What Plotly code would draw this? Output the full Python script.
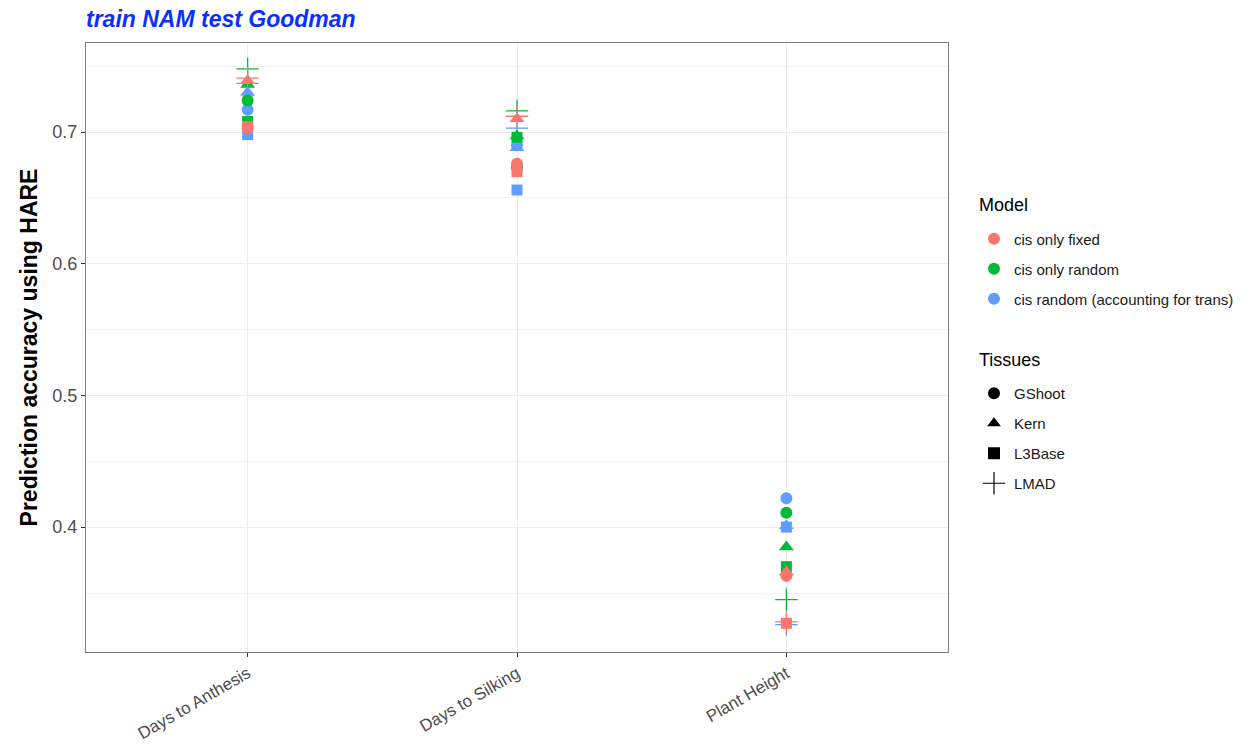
import plotly.graph_objects as go

# Traits on the x axis
traits = ["Days to Anthesis", "Days to Silking", "Plant Height"]

# Prediction accuracy per model and tissue (order follows `traits`)
fixed_gshoot = [0.703, 0.676, 0.363]
fixed_kern = [0.739, 0.710, 0.366]
fixed_l3base = [0.704, 0.670, 0.327]
fixed_lmad = [0.741, 0.712, 0.328]

random_gshoot = [0.724, 0.673, 0.411]
random_kern = [0.736, 0.697, 0.385]
random_l3base = [0.708, 0.696, 0.370]
random_lmad = [0.748, 0.716, 0.345]

trans_gshoot = [0.717, 0.690, 0.422]
trans_kern = [0.730, 0.688, 0.401]
trans_l3base = [0.698, 0.656, 0.400]
trans_lmad = [0.737, 0.703, 0.326]

models = ["cis only fixed", "cis only random", "cis random (accounting for trans)"]
tissues = ["GShoot", "Kern", "L3Base", "LMAD"]
y_ticks = [0.4, 0.5, 0.6, 0.7]

values = {
    "cis only fixed": [fixed_gshoot, fixed_kern, fixed_l3base, fixed_lmad],
    "cis only random": [random_gshoot, random_kern, random_l3base, random_lmad],
    "cis random (accounting for trans)": [trans_gshoot, trans_kern, trans_l3base, trans_lmad],
}

colors = {
    "cis only fixed": "#F8766D",
    "cis only random": "#00BA38",
    "cis random (accounting for trans)": "#619CFF",
}
symbols = {"GShoot": "circle", "Kern": "triangle-up", "L3Base": "square", "LMAD": "cross-thin-open"}
sizes = {"GShoot": 12, "Kern": 13, "L3Base": 11, "LMAD": 16}

FONT = "Liberation Sans, Arial, Helvetica, sans-serif"

# Plot-area geometry in pixels, used to place the legends
W, H = 1251, 745
L, R, T, B = 86, 948, 43, 652


def px_x(x):
    return (x - L) / (R - L)


def px_y(y):
    return (B - y) / (B - T)


fig = go.Figure()

# Points: blue drawn first, red on top
for model in reversed(models):
    for tissue, vals in zip(tissues, values[model]):
        is_plus = tissue == "LMAD"
        fig.add_trace(go.Scatter(
            x=list(range(len(traits))), y=vals, mode="markers",
            marker=dict(
                symbol=symbols[tissue], size=sizes[tissue], color=colors[model],
                line=dict(width=1.3 if is_plus else 0, color=colors[model]),
            ),
            showlegend=False, hoverinfo="skip",
        ))

# Legend: colour key
for i, model in enumerate(models):
    fig.add_trace(go.Scatter(
        x=[None], y=[None], mode="markers", name=model,
        marker=dict(symbol="circle", size=12, color=colors[model]),
        legend="legend", legendgroup=f"m{i}",
    ))

# Legend: shape key
for i, tissue in enumerate(tissues):
    is_plus = tissue == "LMAD"
    fig.add_trace(go.Scatter(
        x=[None], y=[None], mode="markers", name=tissue,
        marker=dict(symbol=symbols[tissue], size=17 if is_plus else 12, color="black",
                    line=dict(width=1.2 if is_plus else 0, color="black")),
        legend="legend2", legendgroup=f"t{i}",
    ))

legend_font = dict(family=FONT, size=15, color="#1A1A1A")
grid = "#EBEBEB"
fig.update_layout(
    width=W, height=H,
    paper_bgcolor="white", plot_bgcolor="white",
    margin=dict(l=L, r=W - R, t=T, b=H - B),
    font=dict(family=FONT, color="#4D4D4D"),
    title=dict(
        text="<b><i>train NAM test Goodman</i></b>",
        font=dict(family=FONT, size=23, color="#0B2FFF"),
        x=L / W, xanchor="left", y=1 - 19 / H, yanchor="middle",
    ),
    xaxis=dict(
        range=[-0.6, 2.6], tickmode="array", tickvals=list(range(len(traits))), ticktext=traits,
        tickangle=-30, tickfont=dict(size=17, color="#4D4D4D"), automargin=False,
        showgrid=True, gridcolor=grid, gridwidth=1.2,
        ticks="outside", ticklen=4, tickcolor="#333333",
        showline=True, linecolor="#7F7F7F", linewidth=1.2, mirror=True, zeroline=False,
    ),
    yaxis=dict(
        range=[0.3052, 0.7676], tickmode="array", tickvals=y_ticks,
        ticktext=[f"{v:.1f}" for v in y_ticks], automargin=False,
        tickfont=dict(size=18, color="#4D4D4D"),
        showgrid=True, gridcolor=grid, gridwidth=1.2,
        minor=dict(tickmode="array", tickvals=[0.35, 0.45, 0.55, 0.65, 0.75],
                   showgrid=True, gridcolor="#F2F2F2", gridwidth=1),
        ticks="outside", ticklen=4, tickcolor="#333333",
        showline=True, linecolor="#7F7F7F", linewidth=1.2, mirror=True, zeroline=False,
        title=dict(text="<b>Prediction accuracy using HARE</b>",
                   font=dict(family=FONT, size=23, color="black"), standoff=8),
    ),
    legend=dict(
        x=px_x(974), xanchor="left", y=px_y(222.5), yanchor="top",
        font=legend_font, tracegroupgap=7.5, traceorder="grouped",
        bgcolor="rgba(0,0,0,0)",
    ),
    legend2=dict(
        x=px_x(974), xanchor="left", y=px_y(377), yanchor="top",
        font=legend_font, tracegroupgap=7.5, traceorder="grouped",
        bgcolor="rgba(0,0,0,0)",
    ),
    annotations=[
        dict(text="Model", x=px_x(977), y=px_y(205), xref="paper", yref="paper",
             xanchor="left", yanchor="middle", showarrow=False,
             font=dict(family=FONT, size=18, color="black")),
        dict(text="Tissues", x=px_x(977), y=px_y(360), xref="paper", yref="paper",
             xanchor="left", yanchor="middle", showarrow=False,
             font=dict(family=FONT, size=18, color="black")),
    ],
)

fig.write_html("out.html")
